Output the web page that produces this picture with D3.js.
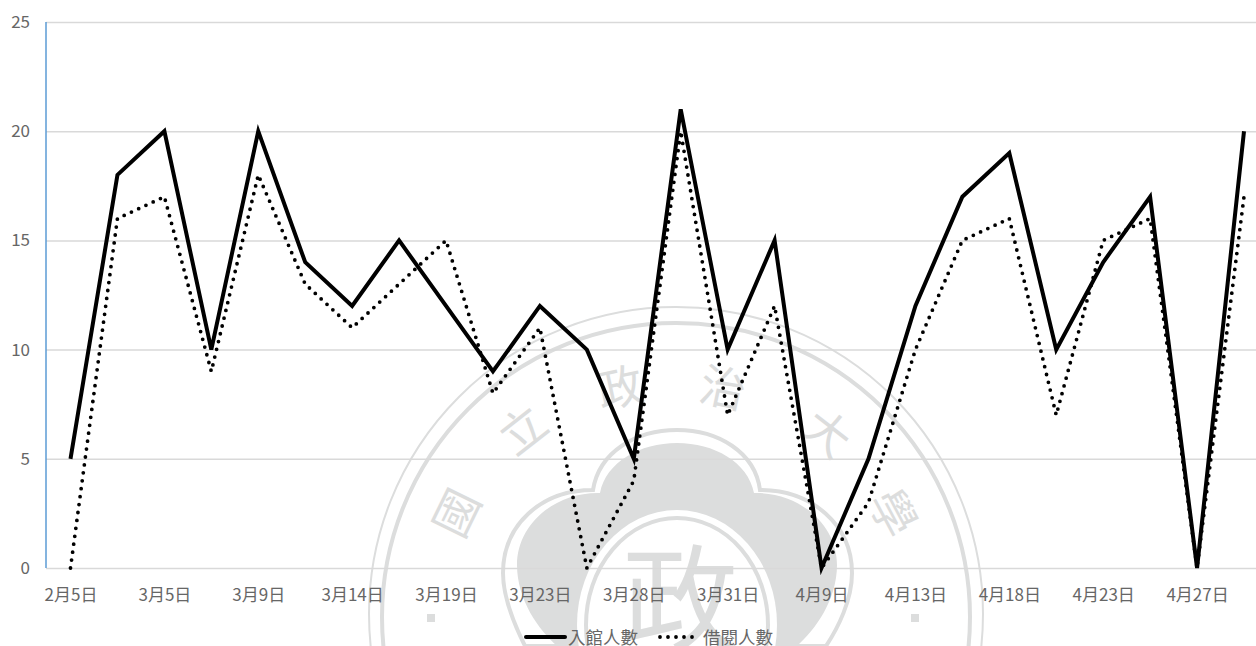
<!DOCTYPE html>
<html><head><meta charset="utf-8">
<script src="https://cdnjs.cloudflare.com/ajax/libs/d3/7.8.5/d3.min.js"></script>
<style>html,body{margin:0;background:#fff;overflow:hidden}svg{display:block}</style>
</head><body><svg id="c" width="1256" height="646"></svg>
<script>
const tickLabels=["2月5日","","3月5日","","3月9日","","3月14日","","3月19日","","3月23日","","3月28日","","3月31日","","4月9日","","4月13日","","4月18日","","4月23日","","4月27日",""];
const visits=[5,18,20,10,20,14,12,15,12,9,12,10,5,21,10,15,0,5,12,17,19,10,14,17,0,20];
const loans=[0,16,17,9,18,13,11,13,15,8,11,0,4,20,7,12,0,3,10,15,16,7,15,16,0,17];
const yTicks=[0,5,10,15,20,25];
const seriesNames=["入館人數","借閱人數"];
const sealChars=[["國",457,513,-64],["立",523,430,-38],["政",620,388,-12],["治",723,388,12],["大",827,433,38],["學",893,513,62]];

const font='"Noto Sans CJK TC","Noto Sans",sans-serif';
const svg=d3.select("#c");
const x=d3.scalePoint().domain(d3.range(visits.length)).range([70.5,1244]);
const y=d3.scaleLinear().domain([0,25]).range([568,22]);
const wm="#dcdddd";

// watermark seal
const seal=svg.append("g").attr("fill","none").attr("stroke",wm);
seal.append("circle").attr("cx",676).attr("cy",614).attr("r",307).attr("stroke-width",2);
seal.append("circle").attr("cx",676).attr("cy",617).attr("r",294).attr("stroke-width",4);
const cloudOuter="M593,490 C599,452 636,430 677,430 C718,430 755,452 760,490 C812,490 852,525 852,573 C852,600 838,628 826,646 L525,646 C516,628 503,600 503,573 C503,525 541,490 593,490 Z";
const cloudFill="M600,493 C606,462 640,443 677,443 C714,443 748,462 754,493 C800,492 837,525 837,565 C837,600 815,630 797,646 L557,646 C539,630 517,600 517,565 C517,525 554,492 600,493 Z";
seal.append("path").attr("d",cloudOuter).attr("stroke-width",4);
seal.append("path").attr("d",cloudFill).attr("fill",wm).attr("stroke","none");
seal.append("ellipse").attr("cx",677).attr("cy",625).attr("rx",100).attr("ry",115).attr("fill","#fff").attr("stroke","none");
seal.append("ellipse").attr("cx",677).attr("cy",625).attr("rx",91).attr("ry",107).attr("stroke-width",4);
svg.append("text").attr("x",680).attr("y",642).attr("text-anchor","middle").attr("font-family",font).attr("font-size",116).attr("fill",wm).text("政");
svg.append("g").selectAll("text").data(sealChars).join("text")
  .attr("transform",d=>`translate(${d[1]},${d[2]}) rotate(${d[3]})`)
  .attr("text-anchor","middle").attr("dy","0.36em").attr("font-family",font)
  .attr("font-size",46).attr("fill",wm).text(d=>d[0]);
svg.append("g").selectAll("rect").data([431,915]).join("rect").attr("x",d=>d-4).attr("y",614).attr("width",8).attr("height",8).attr("fill",wm);

// grid and axes
const yAxis=svg.append("g").attr("transform","translate(46,0)").call(d3.axisLeft(y).tickValues(yTicks).tickSize(-1210).tickPadding(16).tickFormat(d3.format("d")));
yAxis.select(".domain").remove();
yAxis.selectAll("line").attr("stroke","#d9d9d9").attr("stroke-width",1.5);
yAxis.selectAll("text").attr("font-family",font).attr("font-size",17).attr("fill","#666");
svg.append("line").attr("x1",46).attr("x2",46).attr("y1",y(25)).attr("y2",y(0)).attr("stroke","#5b9bd5").attr("stroke-width",1.5);

const xAxis=svg.append("g").attr("transform","translate(0,568)").call(d3.axisBottom(x).tickSize(0).tickPadding(21).tickFormat(i=>tickLabels[i]));
xAxis.select(".domain").remove();
xAxis.selectAll("text").attr("font-family",font).attr("font-size",17).attr("fill","#666");

// lines
const line=d3.line().x((d,i)=>x(i)).y(d=>y(d));
svg.append("path").datum(visits).attr("d",line).attr("fill","none").attr("stroke","#000").attr("stroke-width",4).attr("stroke-linejoin","miter");
svg.append("path").datum(loans).attr("d",line).attr("fill","none").attr("stroke","#000").attr("stroke-width",3.8).attr("stroke-linecap","round").attr("stroke-dasharray","0 8");

// legend
const leg=svg.append("g");
leg.append("line").attr("x1",526).attr("x2",565).attr("y1",637).attr("y2",637).attr("stroke","#000").attr("stroke-width",4).attr("stroke-linecap","round");
leg.append("line").attr("x1",660).attr("x2",699).attr("y1",637).attr("y2",637).attr("stroke","#000").attr("stroke-width",3.8).attr("stroke-linecap","round").attr("stroke-dasharray","0 8");
leg.selectAll("text").data(seriesNames).join("text").attr("x",(d,i)=>[568,703][i]).attr("y",644).attr("font-family",font).attr("font-size",17.5).attr("fill","#666").text(d=>d);
</script></body></html>
